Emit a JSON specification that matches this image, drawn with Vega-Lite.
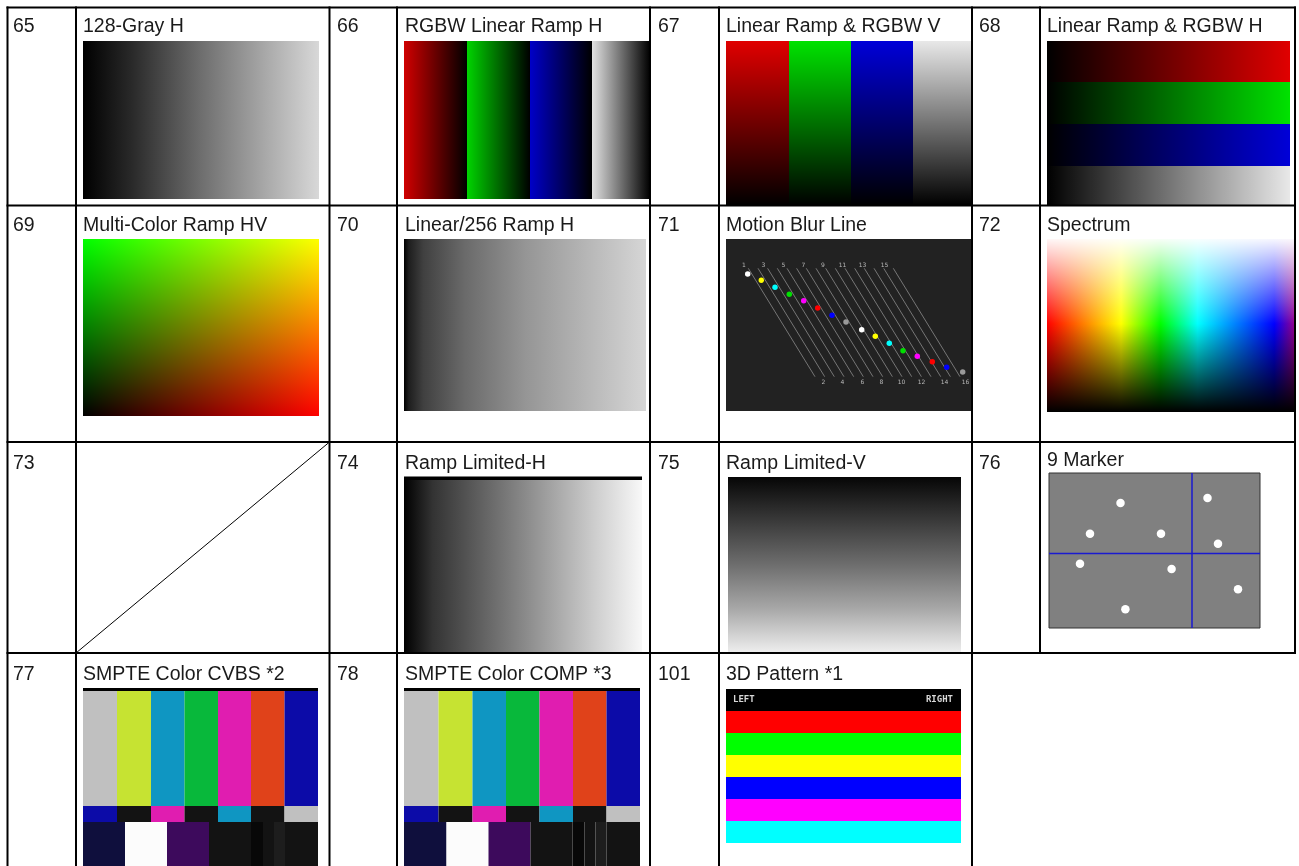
{
  "$schema": "https://vega.github.io/schema/vega-lite/v6.json",
  "width": 1299,
  "height": 866,
  "autosize": {"type": "none"},
  "padding": 0,
  "background": "white",
  "config": {"view": {"stroke": null}},
  "encoding": {
    "x": {"field": "x", "type": "quantitative", "scale": {"domain": [0, 1299], "nice": false, "zero": false}, "axis": null},
    "y": {"field": "y", "type": "quantitative", "scale": {"domain": [0, 866], "reverse": true, "nice": false, "zero": false}, "axis": null}
  },
  "resolve": {"scale": {"color": "independent"}},
  "layer": [
    {
      "data": {"values": [
        {"x": 726, "x2": 789, "y": 41, "y2": 205, "c": "rr"},
        {"x": 789, "x2": 851, "y": 41, "y2": 205, "c": "gg"},
        {"x": 851, "x2": 913, "y": 41, "y2": 205, "c": "bb"},
        {"x": 913, "x2": 971, "y": 41, "y2": 205, "c": "ww"},
        {"x": 1047, "x2": 1290, "y": 41, "y2": 82, "c": "rr"},
        {"x": 1047, "x2": 1290, "y": 82, "y2": 124, "c": "gg"},
        {"x": 1047, "x2": 1290, "y": 124, "y2": 166, "c": "bb"},
        {"x": 1047, "x2": 1290, "y": 166, "y2": 205, "c": "ww"},
        {"x": 726, "x2": 971, "y": 239, "y2": 411, "c": "mbbg"},
        {"x": 404, "x2": 642, "y": 476.5, "y2": 480, "c": "black"},
        {"x": 83, "x2": 318, "y": 688, "y2": 691, "c": "black"},
        {"x": 83, "x2": 117, "y": 691, "y2": 806, "c": "sgray"},
        {"x": 117, "x2": 151, "y": 691, "y2": 806, "c": "syellow"},
        {"x": 151, "x2": 184.5, "y": 691, "y2": 806, "c": "scyan"},
        {"x": 184.5, "x2": 218, "y": 691, "y2": 806, "c": "sgreen"},
        {"x": 218, "x2": 251, "y": 691, "y2": 806, "c": "smagenta"},
        {"x": 251, "x2": 284.5, "y": 691, "y2": 806, "c": "sred"},
        {"x": 284.5, "x2": 318, "y": 691, "y2": 806, "c": "sblue"},
        {"x": 83, "x2": 117, "y": 806, "y2": 822, "c": "sblue"},
        {"x": 117, "x2": 151, "y": 806, "y2": 822, "c": "sblack"},
        {"x": 151, "x2": 184.5, "y": 806, "y2": 822, "c": "smagenta"},
        {"x": 184.5, "x2": 218, "y": 806, "y2": 822, "c": "sblack"},
        {"x": 218, "x2": 251, "y": 806, "y2": 822, "c": "scyan"},
        {"x": 251, "x2": 284.5, "y": 806, "y2": 822, "c": "sblack"},
        {"x": 284.5, "x2": 318, "y": 806, "y2": 822, "c": "sgray"},
        {"x": 83, "x2": 125, "y": 822, "y2": 866, "c": "snavy"},
        {"x": 125, "x2": 167, "y": 822, "y2": 866, "c": "swhite"},
        {"x": 167, "x2": 209, "y": 822, "y2": 866, "c": "spurple"},
        {"x": 209, "x2": 251, "y": 822, "y2": 866, "c": "sblack"},
        {"x": 251, "x2": 263, "y": 822, "y2": 866, "c": "ssuper"},
        {"x": 263, "x2": 274, "y": 822, "y2": 866, "c": "sblack"},
        {"x": 274, "x2": 285, "y": 822, "y2": 866, "c": "sdk"},
        {"x": 285, "x2": 318, "y": 822, "y2": 866, "c": "sblack"},
        {"x": 404, "x2": 640, "y": 688, "y2": 691, "c": "black"},
        {"x": 404, "x2": 438.5, "y": 691, "y2": 806, "c": "sgray"},
        {"x": 438.5, "x2": 472.5, "y": 691, "y2": 806, "c": "syellow"},
        {"x": 472.5, "x2": 506, "y": 691, "y2": 806, "c": "scyan"},
        {"x": 506, "x2": 539.5, "y": 691, "y2": 806, "c": "sgreen"},
        {"x": 539.5, "x2": 573, "y": 691, "y2": 806, "c": "smagenta"},
        {"x": 573, "x2": 606.5, "y": 691, "y2": 806, "c": "sred"},
        {"x": 606.5, "x2": 640, "y": 691, "y2": 806, "c": "sblue"},
        {"x": 404, "x2": 438.5, "y": 806, "y2": 822, "c": "sblue"},
        {"x": 438.5, "x2": 472.5, "y": 806, "y2": 822, "c": "sblack"},
        {"x": 472.5, "x2": 506, "y": 806, "y2": 822, "c": "smagenta"},
        {"x": 506, "x2": 539.5, "y": 806, "y2": 822, "c": "sblack"},
        {"x": 539.5, "x2": 573, "y": 806, "y2": 822, "c": "scyan"},
        {"x": 573, "x2": 606.5, "y": 806, "y2": 822, "c": "sblack"},
        {"x": 606.5, "x2": 640, "y": 806, "y2": 822, "c": "sgray"},
        {"x": 404, "x2": 446.5, "y": 822, "y2": 866, "c": "snavy"},
        {"x": 446.5, "x2": 488.5, "y": 822, "y2": 866, "c": "swhite"},
        {"x": 488.5, "x2": 530.5, "y": 822, "y2": 866, "c": "spurple"},
        {"x": 530.5, "x2": 572.5, "y": 822, "y2": 866, "c": "sblack"},
        {"x": 572.5, "x2": 584.5, "y": 822, "y2": 866, "c": "ssuper"},
        {"x": 584.5, "x2": 595.5, "y": 822, "y2": 866, "c": "sblack"},
        {"x": 595.5, "x2": 606.5, "y": 822, "y2": 866, "c": "sdk"},
        {"x": 606.5, "x2": 640, "y": 822, "y2": 866, "c": "sblack"},
        {"x": 726, "x2": 961, "y": 689, "y2": 711, "c": "black"},
        {"x": 726, "x2": 961, "y": 711, "y2": 733, "c": "red"},
        {"x": 726, "x2": 961, "y": 733, "y2": 755, "c": "green"},
        {"x": 726, "x2": 961, "y": 755, "y2": 777, "c": "yellow"},
        {"x": 726, "x2": 961, "y": 777, "y2": 799, "c": "blue"},
        {"x": 726, "x2": 961, "y": 799, "y2": 821, "c": "magenta"},
        {"x": 726, "x2": 961, "y": 821, "y2": 843, "c": "cyan"}
      ]},
      "mark": {"type": "rect"},
      "encoding": {
        "x2": {"field": "x2"},
        "y2": {"field": "y2"},
        "color": {"field": "c", "type": "nominal", "legend": null,
          "scale": {
            "domain": ["rr", "gg", "bb", "ww", "mbbg", "black", "sgray", "syellow", "scyan", "sgreen", "smagenta", "sred", "sblue", "sblack", "snavy", "swhite", "spurple", "ssuper", "sdk", "red", "green", "yellow", "blue", "magenta", "cyan"],
            "range": ["#e00000", "#00e200", "#0000d8", "#e8e8e8", "#222222", "#000000", "#c0c0c0", "#c6e332", "#0f96c2", "#08b83b", "#e01db0", "#e0421a", "#0c0ba8", "#131313", "#0f0f3d", "#fcfcfc", "#3d0a5c", "#080808", "#1d1d1d", "#ff0000", "#00ff00", "#ffff00", "#0000ff", "#ff00ff", "#00ffff"]
          }}
      }
    },
    {
      "data": {"values": [{"x": 83, "x2": 319, "y": 41, "y2": 199}]},
      "mark": {"type": "rect", "fill": {"gradient": "linear", "x1": 0, "y1": 0, "x2": 1, "y2": 0, "stops": [
        {"offset": 0, "color": "#000000"}, {"offset": 0.21, "color": "#2a2a2a"}, {"offset": 0.5, "color": "#6e6e6e"}, {"offset": 0.78, "color": "#aaaaaa"}, {"offset": 1, "color": "#d8d8d8"}]}},
      "encoding": {"x2": {"field": "x2"}, "y2": {"field": "y2"}}
    },
    {
      "data": {"values": [{"x": 404, "x2": 650, "y": 41, "y2": 199}]},
      "mark": {"type": "rect", "fill": {"gradient": "linear", "x1": 0, "y1": 0, "x2": 1, "y2": 0, "stops": [
        {"offset": 0, "color": "#d00000"}, {"offset": 0.256, "color": "#000000"},
        {"offset": 0.256, "color": "#00d400"}, {"offset": 0.512, "color": "#000000"},
        {"offset": 0.512, "color": "#0000c8"}, {"offset": 0.764, "color": "#000000"},
        {"offset": 0.764, "color": "#e2e2e2"}, {"offset": 1, "color": "#000000"}]}},
      "encoding": {"x2": {"field": "x2"}, "y2": {"field": "y2"}}
    },
    {
      "data": {"values": [{"x": 726, "x2": 971, "y": 41, "y2": 205}]},
      "mark": {"type": "rect", "fill": {"gradient": "linear", "x1": 0, "y1": 0, "x2": 0, "y2": 1, "stops": [
        {"offset": 0, "color": "rgba(0,0,0,0)"}, {"offset": 1, "color": "rgba(0,0,0,1)"}]}},
      "encoding": {"x2": {"field": "x2"}, "y2": {"field": "y2"}}
    },
    {
      "data": {"values": [{"x": 1047, "x2": 1290, "y": 41, "y2": 205}]},
      "mark": {"type": "rect", "fill": {"gradient": "linear", "x1": 0, "y1": 0, "x2": 1, "y2": 0, "stops": [
        {"offset": 0, "color": "rgba(0,0,0,1)"}, {"offset": 1, "color": "rgba(0,0,0,0)"}]}},
      "encoding": {"x2": {"field": "x2"}, "y2": {"field": "y2"}}
    },
    {
      "data": {"values": [{"x": 83, "x2": 319, "y": 239, "y2": 416}]},
      "mark": {"type": "rect", "fill": {"gradient": "linear", "x1": 0, "y1": 0, "x2": 1, "y2": 0, "stops": [
        {"offset": 0, "color": "#000000"}, {"offset": 1, "color": "#ff0000"}]}},
      "encoding": {"x2": {"field": "x2"}, "y2": {"field": "y2"}}
    },
    {
      "data": {"values": [{"x": 83, "x2": 319, "y": 239, "y2": 416}]},
      "mark": {"type": "rect", "blend": "screen", "fill": {"gradient": "linear", "x1": 0, "y1": 0, "x2": 0, "y2": 1, "stops": [
        {"offset": 0, "color": "#00ff00"}, {"offset": 1, "color": "#000000"}]}},
      "encoding": {"x2": {"field": "x2"}, "y2": {"field": "y2"}}
    },
    {
      "data": {"values": [{"x": 404, "x2": 646, "y": 239, "y2": 411}]},
      "mark": {"type": "rect", "fill": {"gradient": "linear", "x1": 0, "y1": 0, "x2": 1, "y2": 0, "stops": [
        {"offset": 0, "color": "#000000"}, {"offset": 0.02, "color": "#1e1e1e"}, {"offset": 0.08, "color": "#404040"}, {"offset": 0.25, "color": "#6a6a6a"}, {"offset": 0.5, "color": "#959595"}, {"offset": 0.8, "color": "#bcbcbc"}, {"offset": 1, "color": "#d6d6d6"}]}},
      "encoding": {"x2": {"field": "x2"}, "y2": {"field": "y2"}}
    },
    {
      "data": {"values": [{"x": 1047, "x2": 1294, "y": 239, "y2": 412}]},
      "mark": {"type": "rect", "fill": {"gradient": "linear", "x1": 0, "y1": 0, "x2": 1, "y2": 0, "stops": [
        {"offset": 0, "color": "#ff0000"}, {"offset": 0.15, "color": "#ff8000"}, {"offset": 0.3, "color": "#ffff00"}, {"offset": 0.46, "color": "#00ff00"}, {"offset": 0.61, "color": "#00ffff"}, {"offset": 0.92, "color": "#0000ff"}, {"offset": 1, "color": "#900090"}]}},
      "encoding": {"x2": {"field": "x2"}, "y2": {"field": "y2"}}
    },
    {
      "data": {"values": [{"x": 1047, "x2": 1294, "y": 239, "y2": 412}]},
      "mark": {"type": "rect", "fill": {"gradient": "linear", "x1": 0, "y1": 0, "x2": 0, "y2": 1, "stops": [
        {"offset": 0, "color": "rgba(255,255,255,0.97)"}, {"offset": 0.49, "color": "rgba(255,255,255,0)"}, {"offset": 0.49, "color": "rgba(0,0,0,0)"}, {"offset": 1, "color": "rgba(0,0,0,1)"}]}},
      "encoding": {"x2": {"field": "x2"}, "y2": {"field": "y2"}}
    },
    {
      "data": {"values": [{"x": 404, "x2": 642, "y": 480, "y2": 653}]},
      "mark": {"type": "rect", "fill": {"gradient": "linear", "x1": 0, "y1": 0, "x2": 1, "y2": 0, "stops": [
        {"offset": 0, "color": "#000000"}, {"offset": 0.04, "color": "#111111"}, {"offset": 0.12, "color": "#333333"}, {"offset": 0.5, "color": "#888888"}, {"offset": 0.8, "color": "#cdcdcd"}, {"offset": 1, "color": "#f8f8f8"}]}},
      "encoding": {"x2": {"field": "x2"}, "y2": {"field": "y2"}}
    },
    {
      "data": {"values": [{"x": 728, "x2": 961, "y": 477, "y2": 653}]},
      "mark": {"type": "rect", "fill": {"gradient": "linear", "x1": 0, "y1": 0, "x2": 0, "y2": 1, "stops": [
        {"offset": 0, "color": "#060606"}, {"offset": 0.25, "color": "#3a3a3a"}, {"offset": 0.5, "color": "#6e6e6e"}, {"offset": 0.75, "color": "#a8a8a8"}, {"offset": 1, "color": "#efefef"}]}},
      "encoding": {"x2": {"field": "x2"}, "y2": {"field": "y2"}}
    },
    {
      "data": {"values": [{"x": 1049, "x2": 1260, "y": 473, "y2": 628}]},
      "mark": {"type": "rect", "fill": "#808080", "stroke": "#333333", "strokeWidth": 1},
      "encoding": {"x2": {"field": "x2"}, "y2": {"field": "y2"}}
    },
    {
      "data": {"values": [
        {"x": 748.3, "y": 268.3, "x2": 815.0, "y2": 376.7},
        {"x": 758.0, "y": 268.3, "x2": 824.7, "y2": 376.7},
        {"x": 767.6, "y": 268.3, "x2": 834.3, "y2": 376.7},
        {"x": 777.3, "y": 268.3, "x2": 844.0, "y2": 376.7},
        {"x": 787.0, "y": 268.3, "x2": 853.7, "y2": 376.7},
        {"x": 796.6, "y": 268.3, "x2": 863.3, "y2": 376.7},
        {"x": 806.3, "y": 268.3, "x2": 873.0, "y2": 376.7},
        {"x": 816.0, "y": 268.3, "x2": 882.7, "y2": 376.7},
        {"x": 825.7, "y": 268.3, "x2": 892.4, "y2": 376.7},
        {"x": 835.3, "y": 268.3, "x2": 902.0, "y2": 376.7},
        {"x": 845.0, "y": 268.3, "x2": 911.7, "y2": 376.7},
        {"x": 854.7, "y": 268.3, "x2": 921.4, "y2": 376.7},
        {"x": 864.3, "y": 268.3, "x2": 931.0, "y2": 376.7},
        {"x": 874.0, "y": 268.3, "x2": 940.7, "y2": 376.7},
        {"x": 883.7, "y": 268.3, "x2": 950.4, "y2": 376.7},
        {"x": 893.3, "y": 268.3, "x2": 960.0, "y2": 376.7}
      ]},
      "mark": {"type": "rule", "color": "#8c8c8c", "strokeWidth": 0.8},
      "encoding": {"x2": {"field": "x2"}, "y2": {"field": "y2"}}
    },
    {
      "data": {"values": [
        {"x": 1049, "y": 553.5, "x2": 1260, "y2": 553.5},
        {"x": 1192, "y": 473, "x2": 1192, "y2": 628}
      ]},
      "mark": {"type": "rule", "color": "#1a1ad0", "strokeWidth": 1.5},
      "encoding": {"x2": {"field": "x2"}, "y2": {"field": "y2"}}
    },
    {
      "data": {"values": [{"x": 76, "y": 653, "x2": 329.5, "y2": 442}]},
      "mark": {"type": "rule", "color": "#000000", "strokeWidth": 1},
      "encoding": {"x2": {"field": "x2"}, "y2": {"field": "y2"}}
    },
    {
      "data": {"values": [
        {"x": 747.7, "y": 274.0, "c": "white"},
        {"x": 761.3, "y": 280.3, "c": "yellow"},
        {"x": 775.0, "y": 287.3, "c": "cyan"},
        {"x": 789.3, "y": 294.3, "c": "green"},
        {"x": 803.7, "y": 300.7, "c": "magenta"},
        {"x": 817.7, "y": 308.0, "c": "red"},
        {"x": 832.0, "y": 315.3, "c": "blue"},
        {"x": 846.0, "y": 322.0, "c": "gray"},
        {"x": 861.7, "y": 329.7, "c": "white"},
        {"x": 875.3, "y": 336.3, "c": "yellow"},
        {"x": 889.3, "y": 343.3, "c": "cyan"},
        {"x": 903.0, "y": 350.7, "c": "green"},
        {"x": 917.3, "y": 356.3, "c": "magenta"},
        {"x": 932.3, "y": 361.7, "c": "red"},
        {"x": 946.7, "y": 367.3, "c": "blue"},
        {"x": 962.7, "y": 372.0, "c": "gray"}
      ]},
      "mark": {"type": "circle", "opacity": 1, "size": 30},
      "encoding": {
        "color": {"field": "c", "type": "nominal", "legend": null,
          "scale": {"domain": ["white", "yellow", "cyan", "green", "magenta", "red", "blue", "gray"],
                    "range": ["#ffffff", "#ffff00", "#00ffff", "#00e000", "#ff00ff", "#ff0000", "#0000ff", "#9a9a9a"]}}
      }
    },
    {
      "data": {"values": [
        {"x": 1120.5, "y": 503}, {"x": 1207.5, "y": 498}, {"x": 1090, "y": 533.7},
        {"x": 1161, "y": 533.7}, {"x": 1218, "y": 543.7}, {"x": 1080, "y": 563.7},
        {"x": 1171.6, "y": 569}, {"x": 1238, "y": 589.3}, {"x": 1125.4, "y": 609.3}
      ]},
      "mark": {"type": "circle", "opacity": 1, "size": 72, "color": "#ffffff"}
    },
    {
      "data": {"values": [
        {"t": "1", "x": 744, "y": 264.5}, {"t": "3", "x": 763.5, "y": 264.5}, {"t": "5", "x": 783.5, "y": 264.5}, {"t": "7", "x": 803.5, "y": 264.5},
        {"t": "9", "x": 823, "y": 264.5}, {"t": "11", "x": 842.5, "y": 264.5}, {"t": "13", "x": 862.5, "y": 264.5}, {"t": "15", "x": 884.5, "y": 264.5},
        {"t": "2", "x": 823.5, "y": 381.5}, {"t": "4", "x": 842.5, "y": 381.5}, {"t": "6", "x": 862.5, "y": 381.5}, {"t": "8", "x": 881.5, "y": 381.5},
        {"t": "10", "x": 901.5, "y": 381.5}, {"t": "12", "x": 921.5, "y": 381.5}, {"t": "14", "x": 944.5, "y": 381.5}, {"t": "16", "x": 965.5, "y": 381.5}
      ]},
      "mark": {"type": "text", "align": "center", "baseline": "middle", "fontSize": 6, "font": "DejaVu Sans", "fill": "#b8b8b8"},
      "encoding": {"text": {"field": "t"}}
    },
    {
      "data": {"values": [{"t": "LEFT", "x": 733, "y": 698.5}]},
      "mark": {"type": "text", "align": "left", "baseline": "middle", "fontSize": 9, "font": "DejaVu Sans Mono", "fontWeight": "bold", "fill": "#d8d8d8"},
      "encoding": {"text": {"field": "t"}}
    },
    {
      "data": {"values": [{"t": "RIGHT", "x": 953, "y": 698.5}]},
      "mark": {"type": "text", "align": "right", "baseline": "middle", "fontSize": 9, "font": "DejaVu Sans Mono", "fontWeight": "bold", "fill": "#d8d8d8"},
      "encoding": {"text": {"field": "t"}}
    },
    {
      "data": {"values": [
        {"t": "65", "x": 13, "y": 32}, {"t": "66", "x": 337, "y": 32}, {"t": "67", "x": 658, "y": 32}, {"t": "68", "x": 979, "y": 32},
        {"t": "69", "x": 13, "y": 231}, {"t": "70", "x": 337, "y": 231}, {"t": "71", "x": 658, "y": 231}, {"t": "72", "x": 979, "y": 231},
        {"t": "73", "x": 13, "y": 469}, {"t": "74", "x": 337, "y": 469}, {"t": "75", "x": 658, "y": 469}, {"t": "76", "x": 979, "y": 469},
        {"t": "77", "x": 13, "y": 680}, {"t": "78", "x": 337, "y": 680}, {"t": "101", "x": 658, "y": 680},
        {"t": "128-Gray H", "x": 83, "y": 32}, {"t": "RGBW Linear Ramp H", "x": 405, "y": 32},
        {"t": "Linear Ramp & RGBW V", "x": 726, "y": 32}, {"t": "Linear Ramp & RGBW H", "x": 1047, "y": 32},
        {"t": "Multi-Color Ramp HV", "x": 83, "y": 231}, {"t": "Linear/256 Ramp H", "x": 405, "y": 231},
        {"t": "Motion Blur Line", "x": 726, "y": 231}, {"t": "Spectrum", "x": 1047, "y": 231},
        {"t": "Ramp Limited-H", "x": 405, "y": 469}, {"t": "Ramp Limited-V", "x": 726, "y": 469},
        {"t": "9 Marker", "x": 1047, "y": 466},
        {"t": "SMPTE Color CVBS *2", "x": 83, "y": 680}, {"t": "SMPTE Color COMP *3", "x": 405, "y": 680},
        {"t": "3D Pattern *1", "x": 726, "y": 680}
      ]},
      "mark": {"type": "text", "align": "left", "baseline": "alphabetic", "fontSize": 19.5, "font": "Liberation Sans", "fill": "#1a1a1a"},
      "encoding": {"text": {"field": "t"}}
    },
    {
      "data": {"values": [
        {"x": 7.5, "y": 7.5, "x2": 7.5, "y2": 866},
        {"x": 76, "y": 7.5, "x2": 76, "y2": 866},
        {"x": 329.5, "y": 7.5, "x2": 329.5, "y2": 866},
        {"x": 397, "y": 7.5, "x2": 397, "y2": 866},
        {"x": 650, "y": 7.5, "x2": 650, "y2": 866},
        {"x": 719, "y": 7.5, "x2": 719, "y2": 866},
        {"x": 972, "y": 7.5, "x2": 972, "y2": 866},
        {"x": 1040, "y": 7.5, "x2": 1040, "y2": 653},
        {"x": 1295, "y": 7.5, "x2": 1295, "y2": 653},
        {"x": 7.5, "y": 7.5, "x2": 1295, "y2": 7.5},
        {"x": 7.5, "y": 205.5, "x2": 1295, "y2": 205.5},
        {"x": 7.5, "y": 442, "x2": 1295, "y2": 442},
        {"x": 7.5, "y": 653, "x2": 1295, "y2": 653}
      ]},
      "mark": {"type": "rule", "color": "#000000", "strokeWidth": 2, "strokeCap": "square"},
      "encoding": {"x2": {"field": "x2"}, "y2": {"field": "y2"}}
    }
  ]
}
